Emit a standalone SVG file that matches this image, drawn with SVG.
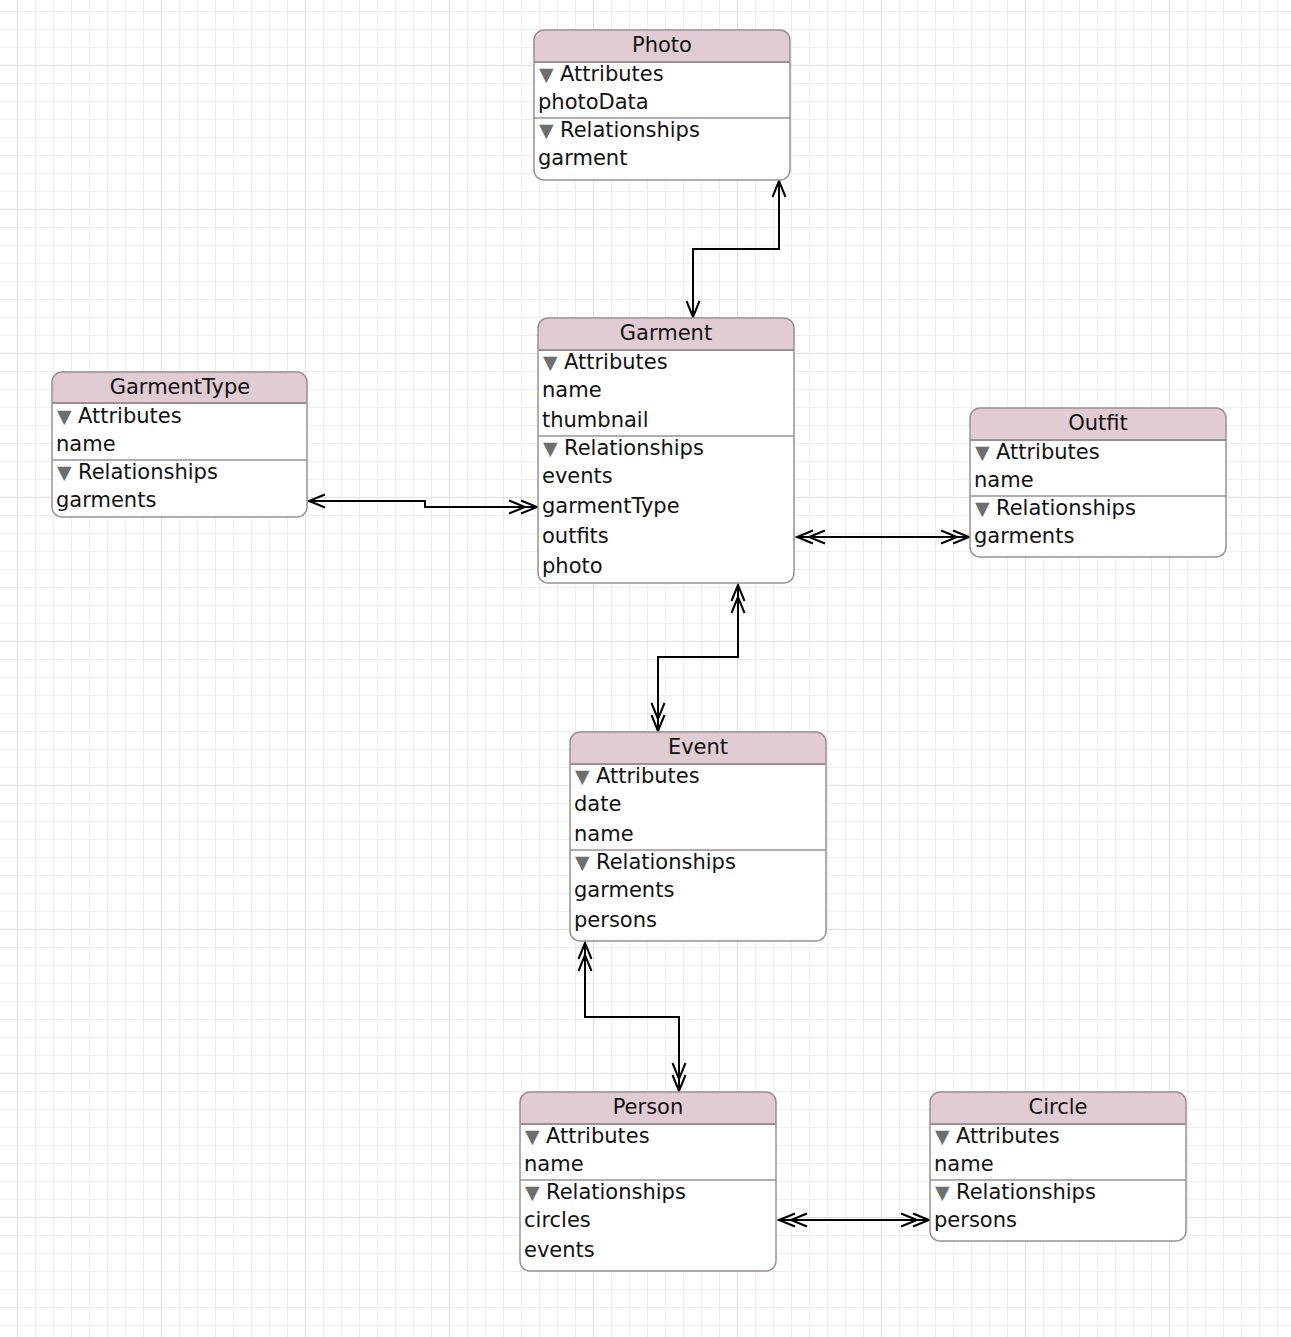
<svg xmlns="http://www.w3.org/2000/svg" width="1291" height="1337" viewBox="0 0 1291 1337">
<style>
.body{fill:#ffffff;stroke:none}
.hdr{fill:#e2ccd4;stroke:none}
.hline{stroke:#9d8e94;stroke-width:2}
.sep{stroke:#9d8e94;stroke-width:1.5}
.border{fill:none;stroke:#9d8e94;stroke-width:1.5}
text{font-family:"DejaVu Sans","Liberation Sans",sans-serif;font-size:21px;fill:#111111}
.title{text-anchor:middle}
.tri{font-size:19px;fill:#6e6e6e}
.conn path{fill:none;stroke:#000000;stroke-width:2}
.mk{fill:none;stroke:#000000;stroke-width:2}
</style>
<defs>
<pattern id="minor" patternUnits="userSpaceOnUse" x="17" y="11" width="18" height="18">
<path d="M0,0 V18 M0,0 H18" fill="none" stroke="#eeeeee" stroke-width="2"/>
</pattern>
<pattern id="major" patternUnits="userSpaceOnUse" x="161" y="65" width="144" height="144">
<path d="M0,0 V144 M0,0 H144" fill="none" stroke="#e0e0e0" stroke-width="2"/>
</pattern>
<marker id="one" markerUnits="userSpaceOnUse" orient="auto-start-reverse" markerWidth="40" markerHeight="40" refX="0" refY="0" viewBox="-30 -20 40 40" overflow="visible">
<path class="mk" d="M-16,-6.5 L0,0 L-16,6.5"/>
</marker>
<marker id="many" markerUnits="userSpaceOnUse" orient="auto-start-reverse" markerWidth="40" markerHeight="40" refX="0" refY="0" viewBox="-30 -20 40 40" overflow="visible">
<path class="mk" d="M-16,-6.5 L0,0 L-16,6.5 M-28,-6.5 L-12,0 L-28,6.5"/>
</marker>
</defs>
<rect width="1291" height="1337" fill="#ffffff"/>
<rect width="1291" height="1337" fill="url(#minor)"/>
<rect width="1291" height="1337" fill="url(#major)"/>

<g class="conn" id="connectors">
<path d="M779,181 V249 H693 V317" marker-start="url(#one)" marker-end="url(#one)"/>
<path d="M309,501 H425 V507 H537" marker-start="url(#one)" marker-end="url(#many)"/>
<path d="M797,537 H969" marker-start="url(#many)" marker-end="url(#many)"/>
<path d="M738,585 V657 H658 V731" marker-start="url(#many)" marker-end="url(#many)"/>
<path d="M585,943 V1017 H679 V1091" marker-start="url(#many)" marker-end="url(#many)"/>
<path d="M779,1220 H929" marker-start="url(#many)" marker-end="url(#many)"/>
</g>

<g id="photo" transform="translate(534,30)">
<rect class="body" width="256" height="150" rx="10"/>
<path class="hdr" d="M0,32 V10 A10,10 0 0 1 10,0 H246 A10,10 0 0 1 256,10 V32 Z"/>
<line class="hline" x1="0" y1="32" x2="256" y2="32"/>
<line class="sep" x1="0" y1="88" x2="256" y2="88"/>
<rect class="border" width="256" height="150" rx="10"/>
<text class="title" x="128" y="22">Photo</text>
<text x="5" y="51"><tspan class="tri">▼</tspan><tspan x="26">Attributes</tspan></text>
<text x="4" y="79">photoData</text>
<text x="5" y="107"><tspan class="tri">▼</tspan><tspan x="26">Relationships</tspan></text>
<text x="4" y="135">garment</text>
</g>

<g id="garment" transform="translate(538,318)">
<rect class="body" width="256" height="265" rx="10"/>
<path class="hdr" d="M0,32 V10 A10,10 0 0 1 10,0 H246 A10,10 0 0 1 256,10 V32 Z"/>
<line class="hline" x1="0" y1="32" x2="256" y2="32"/>
<line class="sep" x1="0" y1="118" x2="256" y2="118"/>
<rect class="border" width="256" height="265" rx="10"/>
<text class="title" x="128" y="22">Garment</text>
<text x="5" y="51"><tspan class="tri">▼</tspan><tspan x="26">Attributes</tspan></text>
<text x="4" y="79">name</text>
<text x="4" y="109">thumbnail</text>
<text x="5" y="137"><tspan class="tri">▼</tspan><tspan x="26">Relationships</tspan></text>
<text x="4" y="165">events</text>
<text x="4" y="195">garmentType</text>
<text x="4" y="225">outfits</text>
<text x="4" y="255">photo</text>
</g>

<g id="garmenttype" transform="translate(52,372)">
<rect class="body" width="255" height="145" rx="10"/>
<path class="hdr" d="M0,31 V10 A10,10 0 0 1 10,0 H245 A10,10 0 0 1 255,10 V31 Z"/>
<line class="hline" x1="0" y1="31" x2="255" y2="31"/>
<line class="sep" x1="0" y1="88" x2="255" y2="88"/>
<rect class="border" width="255" height="145" rx="10"/>
<text class="title" x="128" y="22">GarmentType</text>
<text x="5" y="51"><tspan class="tri">▼</tspan><tspan x="26">Attributes</tspan></text>
<text x="4" y="79">name</text>
<text x="5" y="107"><tspan class="tri">▼</tspan><tspan x="26">Relationships</tspan></text>
<text x="4" y="135">garments</text>
</g>

<g id="outfit" transform="translate(970,408)">
<rect class="body" width="256" height="149" rx="10"/>
<path class="hdr" d="M0,32 V10 A10,10 0 0 1 10,0 H246 A10,10 0 0 1 256,10 V32 Z"/>
<line class="hline" x1="0" y1="32" x2="256" y2="32"/>
<line class="sep" x1="0" y1="88" x2="256" y2="88"/>
<rect class="border" width="256" height="149" rx="10"/>
<text class="title" x="128" y="22">Outfit</text>
<text x="5" y="51"><tspan class="tri">▼</tspan><tspan x="26">Attributes</tspan></text>
<text x="4" y="79">name</text>
<text x="5" y="107"><tspan class="tri">▼</tspan><tspan x="26">Relationships</tspan></text>
<text x="4" y="135">garments</text>
</g>

<g id="event" transform="translate(570,732)">
<rect class="body" width="256" height="209" rx="10"/>
<path class="hdr" d="M0,32 V10 A10,10 0 0 1 10,0 H246 A10,10 0 0 1 256,10 V32 Z"/>
<line class="hline" x1="0" y1="32" x2="256" y2="32"/>
<line class="sep" x1="0" y1="118" x2="256" y2="118"/>
<rect class="border" width="256" height="209" rx="10"/>
<text class="title" x="128" y="22">Event</text>
<text x="5" y="51"><tspan class="tri">▼</tspan><tspan x="26">Attributes</tspan></text>
<text x="4" y="79">date</text>
<text x="4" y="109">name</text>
<text x="5" y="137"><tspan class="tri">▼</tspan><tspan x="26">Relationships</tspan></text>
<text x="4" y="165">garments</text>
<text x="4" y="195">persons</text>
</g>

<g id="person" transform="translate(520,1092)">
<rect class="body" width="256" height="179" rx="10"/>
<path class="hdr" d="M0,32 V10 A10,10 0 0 1 10,0 H246 A10,10 0 0 1 256,10 V32 Z"/>
<line class="hline" x1="0" y1="32" x2="256" y2="32"/>
<line class="sep" x1="0" y1="88" x2="256" y2="88"/>
<rect class="border" width="256" height="179" rx="10"/>
<text class="title" x="128" y="22">Person</text>
<text x="5" y="51"><tspan class="tri">▼</tspan><tspan x="26">Attributes</tspan></text>
<text x="4" y="79">name</text>
<text x="5" y="107"><tspan class="tri">▼</tspan><tspan x="26">Relationships</tspan></text>
<text x="4" y="135">circles</text>
<text x="4" y="165">events</text>
</g>

<g id="circle" transform="translate(930,1092)">
<rect class="body" width="256" height="149" rx="10"/>
<path class="hdr" d="M0,32 V10 A10,10 0 0 1 10,0 H246 A10,10 0 0 1 256,10 V32 Z"/>
<line class="hline" x1="0" y1="32" x2="256" y2="32"/>
<line class="sep" x1="0" y1="88" x2="256" y2="88"/>
<rect class="border" width="256" height="149" rx="10"/>
<text class="title" x="128" y="22">Circle</text>
<text x="5" y="51"><tspan class="tri">▼</tspan><tspan x="26">Attributes</tspan></text>
<text x="4" y="79">name</text>
<text x="5" y="107"><tspan class="tri">▼</tspan><tspan x="26">Relationships</tspan></text>
<text x="4" y="135">persons</text>
</g>
</svg>
